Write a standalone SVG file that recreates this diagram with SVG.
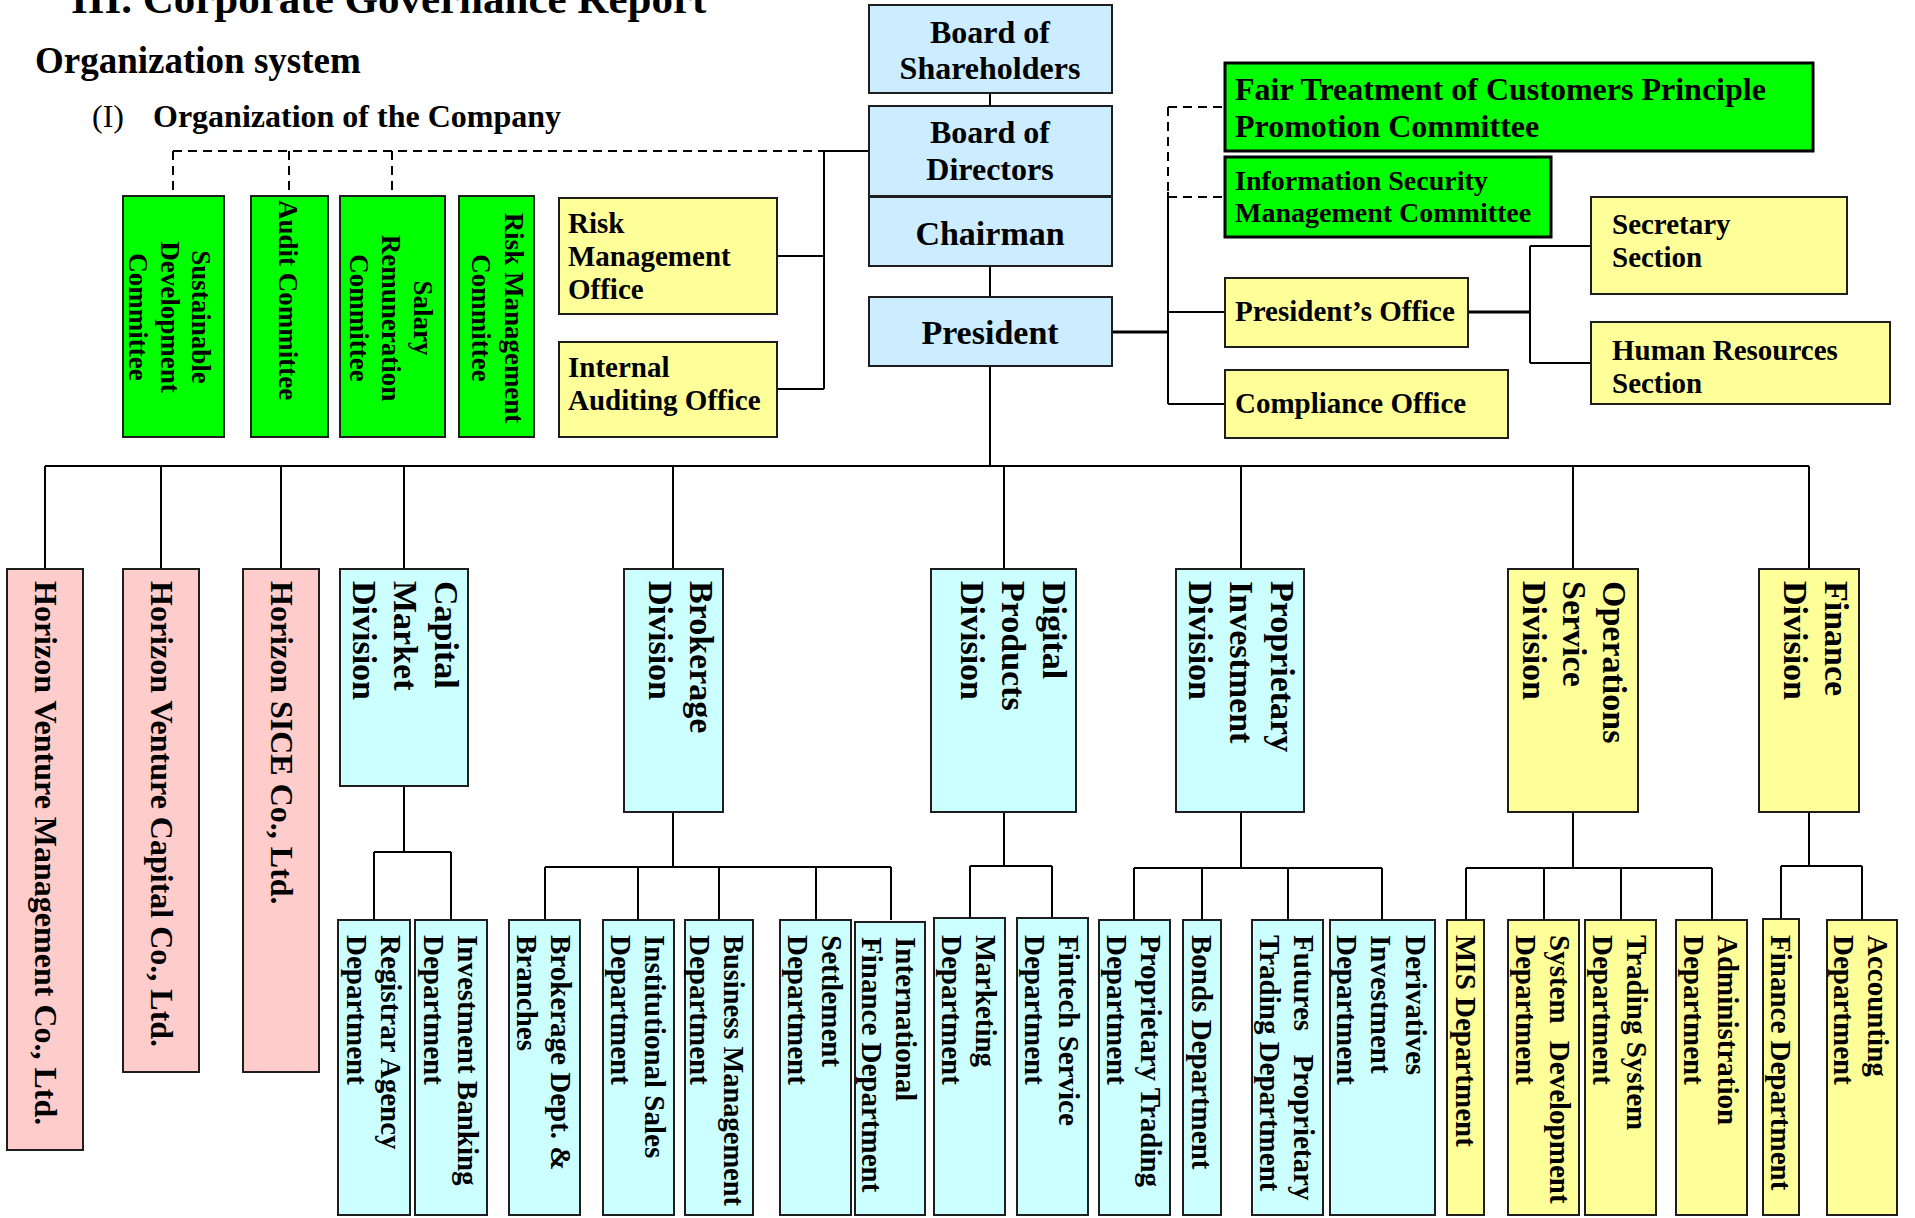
<svg xmlns="http://www.w3.org/2000/svg" width="1915" height="1218" viewBox="0 0 1915 1218">
  <style>
    .t { font-family: "Liberation Serif", "Times New Roman", serif; font-weight: bold; fill: #000; }
    .reg { font-weight: normal; }
    .box { stroke: #1e1e1e; stroke-width: 2; }
    .heavy { stroke: #000; stroke-width: 3; }
    .blue { fill: #CCECFF; }
    .cyan { fill: #CCFFFF; }
    .green { fill: #00FF00; }
    .yellow { fill: #FFFF99; }
    .pink { fill: #FFCCCC; }
    .ln { stroke: #000; stroke-width: 2; fill: none; }
    .thick { stroke-width: 3; }
    .dash { stroke-dasharray: 9 6; }
    .f34 { font-size: 34px; }
    .f32 { font-size: 32px; }
    .f29 { font-size: 29px; }
    .f28 { font-size: 28px; }
    .f27 { font-size: 27px; }
  </style>
  <rect width="1915" height="1218" fill="#fff"/>

  <!-- headings -->
  <g id="headings">
    <text class="t" x="71" y="13" font-size="43">III. Corporate Governance Report</text>
    <text class="t" x="35" y="73" font-size="37">Organization system</text>
    <text class="t reg" x="92" y="127" font-size="32">(I)</text>
    <text class="t" x="153" y="127" font-size="32">Organization of the Company</text>
  </g>

  <!-- connectors -->
  <g id="connectors">
    <!-- board committees (dashed) -->
    <path class="ln dash" d="M173 151 H824 M173 151 V196 M289 151 V196 M392 151 V196"/>
    <path class="ln" d="M824 151 H869 M824 151 V389 M777 256 H824 M777 389 H824"/>
    <!-- top spine -->
    <path class="ln" d="M990 93 V106 M990 266 V297 M990 366 V466"/>
    <!-- president staff -->
    <path class="ln thick" d="M1112 332 H1168"/>
    <path class="ln dash" d="M1168 107 V192 M1168 107 H1225 M1168 197 H1225"/>
    <path class="ln" d="M1168 192 V404 M1168 312 H1225 M1168 404 H1225"/>
    <path class="ln thick" d="M1468 312 H1530"/>
    <path class="ln" d="M1530 246 V363 M1530 246 H1591 M1530 363 H1591"/>
    <!-- main bus -->
    <path class="ln" d="M45 466 H990" stroke-width="2.5"/>
    <path class="ln" d="M990 466 H1809"/>
    <path class="ln" d="M45 466 V569 M161 466 V569 M281 466 V569 M404 466 V569 M673 466 V569 M1004 466 V569 M1241 466 V569 M1573 466 V569 M1809 466 V569"/>
    <!-- capital market -->
    <path class="ln" d="M404 786 V852 M374 852 H451 M374 852 V920 M451 852 V920"/>
    <!-- brokerage -->
    <path class="ln" d="M673 812 V867 M545 867 H891 M545 867 V920 M638 867 V920 M719 867 V920 M816 867 V920 M891 867 V920"/>
    <!-- digital -->
    <path class="ln" d="M1004 812 V866 M970 866 H1052 M970 866 V920 M1052 866 V920"/>
    <!-- proprietary -->
    <path class="ln" d="M1241 812 V868 M1134 868 H1382 M1134 868 V920 M1202 868 V920 M1288 868 V920 M1382 868 V920"/>
    <!-- operations -->
    <path class="ln" d="M1573 812 V868 M1466 868 H1712 M1466 868 V920 M1544 868 V920 M1621 868 V920 M1712 868 V920"/>
    <!-- finance -->
    <path class="ln" d="M1809 812 V866 M1781 866 H1862 M1781 866 V920 M1862 866 V920"/>
  </g>

  <!-- governance chain -->
  <g id="board-of-shareholders">
    <rect class="box blue" x="869" y="5" width="243" height="88"/>
    <text class="t f32" x="990" y="43" text-anchor="middle">Board of</text>
    <text class="t f32" x="990" y="79" text-anchor="middle">Shareholders</text>
  </g>
  <g id="board-of-directors">
    <rect class="box blue" x="869" y="106" width="243" height="90"/>
    <text class="t f32" x="990" y="143" text-anchor="middle">Board of</text>
    <text class="t f32" x="990" y="180" text-anchor="middle">Directors</text>
  </g>
  <g id="chairman">
    <rect class="box blue" x="869" y="197" width="243" height="69"/>
    <text class="t f34" x="990" y="245" text-anchor="middle">Chairman</text>
  </g>
  <g id="president">
    <rect class="box blue" x="869" y="297" width="243" height="69"/>
    <text class="t f34" x="990" y="344" text-anchor="middle">President</text>
  </g>

  <!-- board committees -->
  <g id="sustainable-development-committee">
    <rect class="box green" x="123" y="196" width="101" height="241"/>
    <text class="t f27" text-anchor="middle" transform="translate(192 317) rotate(90)"><tspan x="0" y="0">Sustainable</tspan><tspan x="0" dy="31.5">Development</tspan><tspan x="0" dy="31.5">Committee</tspan></text>
  </g>
  <g id="audit-committee">
    <rect class="box green" x="251" y="196" width="77" height="241"/>
    <text class="t f27" transform="translate(279 200) rotate(90)">Audit Committee</text>
  </g>
  <g id="salary-remuneration-committee">
    <rect class="box green" x="340" y="196" width="105" height="241"/>
    <text class="t f27" text-anchor="middle" transform="translate(414 318) rotate(90)"><tspan x="0" y="0">Salary</tspan><tspan x="0" dy="32">Remuneration</tspan><tspan x="0" dy="32">Committee</tspan></text>
  </g>
  <g id="risk-management-committee">
    <rect class="box green" x="459" y="196" width="75" height="241"/>
    <text class="t f27" text-anchor="middle" transform="translate(505 318) rotate(90)"><tspan x="0" y="0">Risk Management</tspan><tspan x="0" dy="33">Committee</tspan></text>
  </g>
  <g id="risk-management-office">
    <rect class="box yellow" x="559" y="198" width="218" height="116"/>
    <text class="t f29" x="568" y="233">Risk</text>
    <text class="t f29" x="568" y="266">Management</text>
    <text class="t f29" x="568" y="299">Office</text>
  </g>
  <g id="internal-auditing-office">
    <rect class="box yellow" x="559" y="342" width="218" height="95"/>
    <text class="t f29" x="568" y="377">Internal</text>
    <text class="t f29" x="568" y="410">Auditing Office</text>
  </g>

  <!-- president's staff units -->
  <g id="fair-treatment-committee">
    <rect class="box green heavy" x="1225" y="63" width="588" height="88"/>
    <text class="t f32" x="1235" y="100">Fair Treatment of Customers Principle</text>
    <text class="t f32" x="1235" y="137">Promotion Committee</text>
  </g>
  <g id="information-security-committee">
    <rect class="box green heavy" x="1225" y="157" width="326" height="80"/>
    <text class="t f28" x="1235" y="190">Information Security</text>
    <text class="t f28" x="1235" y="222">Management Committee</text>
  </g>
  <g id="presidents-office">
    <rect class="box yellow" x="1225" y="278" width="243" height="69"/>
    <text class="t f29" x="1235" y="321">President’s Office</text>
  </g>
  <g id="compliance-office">
    <rect class="box yellow" x="1225" y="370" width="283" height="68"/>
    <text class="t f29" x="1235" y="413">Compliance Office</text>
  </g>
  <g id="secretary-section">
    <rect class="box yellow" x="1591" y="197" width="256" height="97"/>
    <text class="t f29" x="1612" y="234">Secretary</text>
    <text class="t f29" x="1612" y="267">Section</text>
  </g>
  <g id="human-resources-section">
    <rect class="box yellow" x="1591" y="322" width="299" height="82"/>
    <text class="t f29" x="1612" y="360">Human Resources</text>
    <text class="t f29" x="1612" y="393">Section</text>
  </g>

  <!-- subsidiaries -->
  <g id="horizon-venture-management">
    <rect class="box pink" x="7" y="569" width="76" height="581"/>
    <text class="t f32" transform="translate(34.5 581) rotate(90)">Horizon Venture Management Co., Ltd.</text>
  </g>
  <g id="horizon-venture-capital">
    <rect class="box pink" x="123" y="569" width="76" height="503"/>
    <text class="t f32" transform="translate(150.5 581) rotate(90)">Horizon Venture Capital Co., Ltd.</text>
  </g>
  <g id="horizon-sice">
    <rect class="box pink" x="243" y="569" width="76" height="503"/>
    <text class="t f32" transform="translate(270.5 581) rotate(90)">Horizon SICE Co., Ltd.</text>
  </g>

  <!-- divisions -->
  <g id="capital-market-division">
    <rect class="box cyan" x="340" y="569" width="128" height="217"/>
    <text class="t f34" transform="translate(434.5 581) rotate(90)"><tspan x="0" y="0">Capital</tspan><tspan x="0" dy="41">Market</tspan><tspan x="0" dy="41">Division</tspan></text>
  </g>
  <g id="brokerage-division">
    <rect class="box cyan" x="624" y="569" width="99" height="243"/>
    <text class="t f34" transform="translate(689.5 581) rotate(90)"><tspan x="0" y="0">Brokerage</tspan><tspan x="0" dy="41">Division</tspan></text>
  </g>
  <g id="digital-products-division">
    <rect class="box cyan" x="931" y="569" width="145" height="243"/>
    <text class="t f34" transform="translate(1042.5 581) rotate(90)"><tspan x="0" y="0">Digital</tspan><tspan x="0" dy="41">Products</tspan><tspan x="0" dy="41">Division</tspan></text>
  </g>
  <g id="proprietary-investment-division">
    <rect class="box cyan" x="1176" y="569" width="128" height="243"/>
    <text class="t f34" transform="translate(1270.5 581) rotate(90)"><tspan x="0" y="0">Proprietary</tspan><tspan x="0" dy="41">Investment</tspan><tspan x="0" dy="41">Division</tspan></text>
  </g>
  <g id="operations-service-division">
    <rect class="box yellow" x="1508" y="569" width="130" height="243"/>
    <text class="t f34" transform="translate(1603 581) rotate(90)"><tspan x="0" y="0">Operations</tspan><tspan x="0" dy="40">Service</tspan><tspan x="0" dy="40">Division</tspan></text>
  </g>
  <g id="finance-division">
    <rect class="box yellow" x="1759" y="569" width="100" height="243"/>
    <text class="t f34" transform="translate(1824.5 581) rotate(90)"><tspan x="0" y="0">Finance</tspan><tspan x="0" dy="41">Division</tspan></text>
  </g>

  <!-- departments -->
  <g id="registrar-agency-department">
    <rect class="box cyan" x="338" y="920" width="72" height="295"/>
    <text class="t f29" transform="translate(380.8 935) rotate(90)"><tspan x="0" y="0">Registrar Agency</tspan><tspan x="0" dy="34">Department</tspan></text>
  </g>
  <g id="investment-banking-department">
    <rect class="box cyan" x="415" y="920" width="72" height="295"/>
    <text class="t f29" transform="translate(457.8 935) rotate(90)"><tspan x="0" y="0">Investment Banking</tspan><tspan x="0" dy="34">Department</tspan></text>
  </g>
  <g id="brokerage-dept-branches">
    <rect class="box cyan" x="509" y="920" width="71" height="295"/>
    <text class="t f29" transform="translate(550.8 935) rotate(90)"><tspan x="0" y="0">Brokerage Dept. &amp;</tspan><tspan x="0" dy="34">Branches</tspan></text>
  </g>
  <g id="institutional-sales-department">
    <rect class="box cyan" x="603" y="920" width="71" height="295"/>
    <text class="t f29" transform="translate(644.8 935) rotate(90)"><tspan x="0" y="0">Institutional Sales</tspan><tspan x="0" dy="34">Department</tspan></text>
  </g>
  <g id="business-management-department">
    <rect class="box cyan" x="685" y="920" width="68" height="295"/>
    <text class="t f29" transform="translate(723.8 935) rotate(90)"><tspan x="0" y="0" textLength="271" lengthAdjust="spacingAndGlyphs">Business  Management</tspan><tspan x="0" dy="34">Department</tspan></text>
  </g>
  <g id="settlement-department">
    <rect class="box cyan" x="780" y="920" width="71" height="295"/>
    <text class="t f29" transform="translate(821.8 935) rotate(90)"><tspan x="0" y="0">Settlement</tspan><tspan x="0" dy="34">Department</tspan></text>
  </g>
  <g id="international-finance-department">
    <rect class="box cyan" x="855" y="922" width="70" height="293"/>
    <text class="t f29" transform="translate(895.8 937) rotate(90)"><tspan x="0" y="0">International</tspan><tspan x="0" dy="34">Finance Department</tspan></text>
  </g>
  <g id="marketing-department">
    <rect class="box cyan" x="934" y="918" width="71" height="297"/>
    <text class="t f29" transform="translate(975.8 935) rotate(90)"><tspan x="0" y="0">Marketing</tspan><tspan x="0" dy="34">Department</tspan></text>
  </g>
  <g id="fintech-service-department">
    <rect class="box cyan" x="1017" y="918" width="71" height="297"/>
    <text class="t f29" transform="translate(1058.8 935) rotate(90)"><tspan x="0" y="0">Fintech Service</tspan><tspan x="0" dy="34">Department</tspan></text>
  </g>
  <g id="proprietary-trading-department">
    <rect class="box cyan" x="1099" y="920" width="71" height="295"/>
    <text class="t f29" transform="translate(1140.8 935) rotate(90)"><tspan x="0" y="0">Proprietary Trading</tspan><tspan x="0" dy="34">Department</tspan></text>
  </g>
  <g id="bonds-department">
    <rect class="box cyan" x="1183" y="920" width="38" height="295"/>
    <text class="t f29" transform="translate(1192.4 935) rotate(90)">Bonds Department</text>
  </g>
  <g id="futures-proprietary-trading-department">
    <rect class="box cyan" x="1252" y="920" width="71" height="295"/>
    <text class="t f29" transform="translate(1293.8 935) rotate(90)"><tspan x="0" y="0" word-spacing="16">Futures Proprietary</tspan><tspan x="0" dy="34">Trading Department</tspan></text>
  </g>
  <g id="derivatives-investment-department">
    <rect class="box cyan" x="1330" y="920" width="105" height="295"/>
    <text class="t f29" transform="translate(1405.8 935) rotate(90)"><tspan x="0" y="0">Derivatives</tspan><tspan x="0" dy="34.5">Investment</tspan><tspan x="0" dy="34.5">Department</tspan></text>
  </g>
  <g id="mis-department">
    <rect class="box yellow" x="1447" y="920" width="37" height="295"/>
    <text class="t f29" transform="translate(1455.9 935) rotate(90)">MIS Department</text>
  </g>
  <g id="system-development-department">
    <rect class="box yellow" x="1508" y="920" width="71" height="295"/>
    <text class="t f29" transform="translate(1549.8 935) rotate(90)"><tspan x="0" y="0" word-spacing="10">System Development</tspan><tspan x="0" dy="34">Department</tspan></text>
  </g>
  <g id="trading-system-department">
    <rect class="box yellow" x="1585" y="920" width="71" height="295"/>
    <text class="t f29" transform="translate(1626.8 935) rotate(90)"><tspan x="0" y="0">Trading System</tspan><tspan x="0" dy="34">Department</tspan></text>
  </g>
  <g id="administration-department">
    <rect class="box yellow" x="1676" y="920" width="71" height="295"/>
    <text class="t f29" transform="translate(1717.8 935) rotate(90)"><tspan x="0" y="0">Administration</tspan><tspan x="0" dy="34">Department</tspan></text>
  </g>
  <g id="finance-department">
    <rect class="box yellow" x="1763" y="919" width="36" height="296"/>
    <text class="t f29" transform="translate(1771.4 935) rotate(90)">Finance Department</text>
  </g>
  <g id="accounting-department">
    <rect class="box yellow" x="1827" y="920" width="70" height="295"/>
    <text class="t f29" transform="translate(1867.8 935) rotate(90)"><tspan x="0" y="0">Accounting</tspan><tspan x="0" dy="34">Department</tspan></text>
  </g>
</svg>
